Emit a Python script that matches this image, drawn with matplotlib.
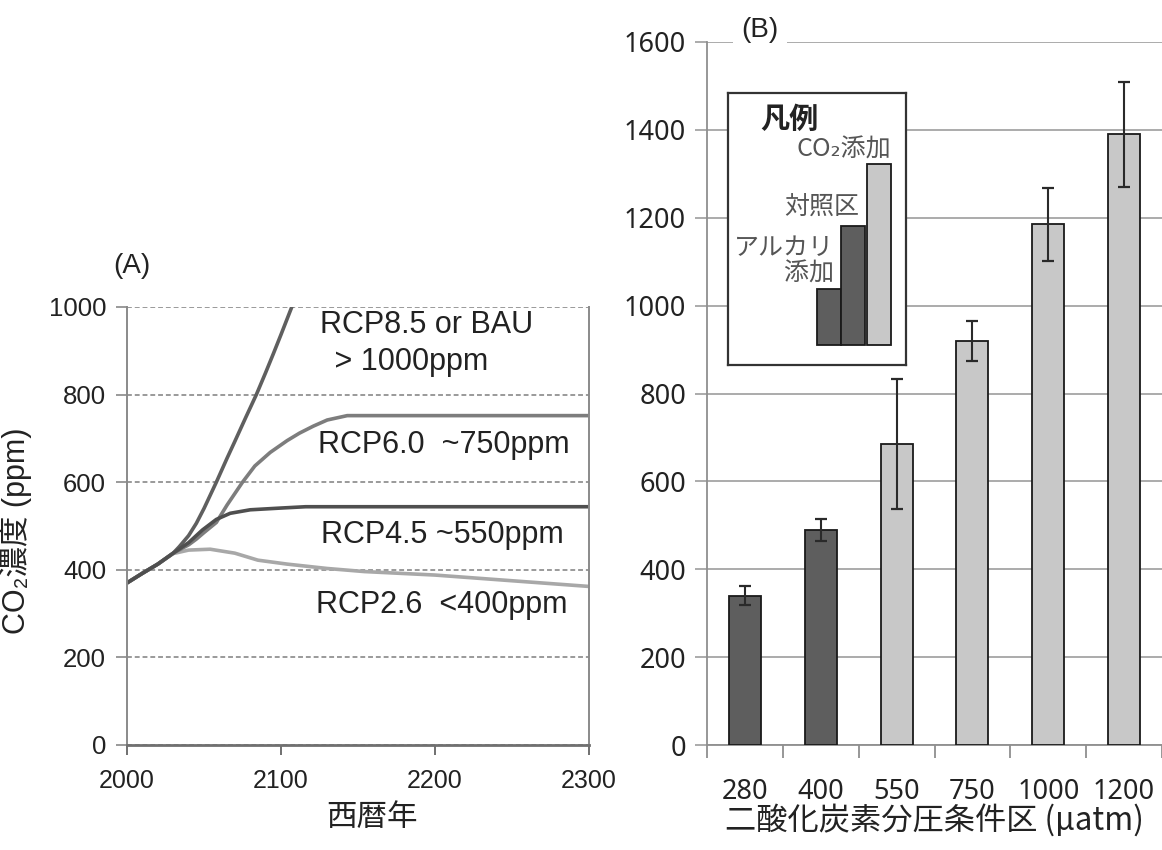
import matplotlib
matplotlib.use("Agg")
import matplotlib.pyplot as plt
from matplotlib.ticker import FixedLocator

# --- (A) RCP scenario CO2 concentrations ---
years_85 = [2000, 2010, 2020, 2030, 2034, 2040, 2045, 2050, 2058, 2065, 2070, 2077, 2084, 2090, 2095, 2100, 2107]
rcp85 = [370, 392, 413, 438, 453, 478, 506, 540, 600, 655, 693, 747, 800, 850, 893, 937, 1000]

years_60 = [2000, 2010, 2020, 2030, 2040, 2045, 2050, 2058, 2065, 2075, 2083, 2093, 2104, 2112, 2121, 2130, 2143, 2200, 2300]
rcp60 = [370, 392, 413, 438, 457, 470, 485, 508, 548, 600, 637, 668, 695, 712, 728, 742, 752, 752, 752]

years_45 = [2000, 2010, 2020, 2030, 2040, 2049, 2058, 2067, 2080, 2100, 2116, 2200, 2300]
rcp45 = [370, 392, 413, 438, 462, 491, 515, 529, 537, 541, 544, 544, 544]

years_26 = [2000, 2010, 2020, 2030, 2040, 2054, 2070, 2085, 2104, 2130, 2154, 2200, 2250, 2300]
rcp26 = [370, 392, 413, 437, 445, 447, 438, 422, 413, 403, 396, 388, 375, 362]

# --- (B) bar chart by CO2 partial pressure ---
conditions = ["280", "400", "550", "750", "1000", "1200"]
bar_values = [340, 490, 685, 920, 1185, 1390]
bar_errors = [21, 25, 148, 45, 83, 120]
bar_groups = ["alk", "alk", "co2", "co2", "co2", "co2"]

legend_heights = [56, 119, 181]
legend_groups = ["alk", "ctrl", "co2"]

group_colors = {"alk": "#5e5e5e", "ctrl": "#5e5e5e", "co2": "#c8c8c8"}

W, H = 1162, 850
latin = ["Liberation Sans", "Noto Sans CJK JP", "DejaVu Sans"]
cjk = ["Noto Sans CJK JP", "DejaVu Sans"]
plt.rcParams["font.family"] = latin

fig = plt.figure(figsize=(W / 100, H / 100), dpi=100)

# panel A
ax_a = fig.add_axes([127 / W, 105 / H, 462 / W, 438 / H])
ax_a.plot(years_26, rcp26, color="#a8a8a8", lw=2.6)
ax_a.plot(years_85, rcp85, color="#5f5f5f", lw=2.6)
ax_a.plot(years_60, rcp60, color="#7d7d7d", lw=2.6)
ax_a.plot(years_45, rcp45, color="#4f4f4f", lw=2.6)
ax_a.set_xlim(2000, 2300)
ax_a.set_ylim(0, 1000)
ax_a.set_xticks([2000, 2100, 2200, 2300])
ax_a.set_yticks(range(0, 1001, 200))
ax_a.yaxis.grid(True, color="#9a9a9a", lw=1.4, linestyle=(0, (2.5, 1.5)))
ax_a.set_axisbelow(True)
for side in ["left", "right"]:
    ax_a.spines[side].set_color("#8a8a8a")
    ax_a.spines[side].set_linewidth(1.4)
ax_a.spines["top"].set_visible(False)
ax_a.spines["bottom"].set_color("#707070")
ax_a.spines["bottom"].set_linewidth(2)
ax_a.tick_params(axis="x", direction="out", length=7, width=1.4, color="#707070",
                 labelsize=18, pad=10, labelcolor="#222222")
ax_a.tick_params(axis="y", direction="out", length=8, width=1.4, color="#9a9a9a",
                 labelsize=18.5, pad=7, labelcolor="#222222")
ax_a.set_xlabel("西暦年", family=cjk, fontsize=22, color="#222222")
ax_a.xaxis.set_label_coords(0.53, -0.13)
ax_a.set_ylabel("CO₂濃度 (ppm)", family=latin, fontsize=22, color="#222222")
ax_a.yaxis.set_label_coords(-0.205, 0.49)

ann = dict(fontsize=22, color="#222222", va="center", ha="left")
ax_a.text(2125, 959, "RCP8.5 or BAU", **ann)
ax_a.text(2129, 874, " > 1000ppm", **ann)
ax_a.text(2124, 685, "RCP6.0  ~750ppm", **ann)
ax_a.text(2126, 479, "RCP4.5 ~550ppm", **ann)
ax_a.text(2123, 320, "RCP2.6  <400ppm", **ann)
fig.text(132 / W, 1 - 266 / H, "(A)", fontsize=20, ha="center", va="center", color="#222222")

# panel B
ax_b = fig.add_axes([707 / W, 105 / H, 455 / W, 703 / H])
xpos = list(range(len(conditions)))
ax_b.bar(xpos, bar_values, width=0.42, color=[group_colors[g] for g in bar_groups],
         edgecolor="#1a1a1a", linewidth=1.3, zorder=3)
ax_b.errorbar(xpos, bar_values, yerr=bar_errors, fmt="none", ecolor="#2a2a2a",
              elinewidth=1.5, capsize=4.3, capthick=1.6, zorder=4)
ax_b.set_xlim(-0.5, len(conditions) - 0.5)
ax_b.set_ylim(0, 1600)
ax_b.set_yticks(range(0, 1601, 200))
ax_b.set_xticks(xpos)
ax_b.set_xticklabels(conditions)
ax_b.xaxis.set_minor_locator(FixedLocator([i - 0.5 for i in range(len(conditions) + 1)]))
ax_b.yaxis.grid(True, color="#a5a5a5", lw=1.3)
ax_b.set_axisbelow(True)
ax_b.spines["top"].set_visible(False)
ax_b.spines["right"].set_visible(False)
ax_b.spines["left"].set_color("#8f8f8f")
ax_b.spines["bottom"].set_color("#8f8f8f")
ax_b.spines["left"].set_linewidth(1.3)
ax_b.spines["bottom"].set_linewidth(1.3)
ax_b.tick_params(axis="x", which="major", length=0, pad=24, labelsize=19.5, labelcolor="#222222")
ax_b.tick_params(axis="x", which="minor", length=9, width=1.3, color="#8f8f8f", direction="out")
ax_b.tick_params(axis="y", length=9, width=1.3, color="#a5a5a5", pad=6, labelsize=19.5,
                 labelcolor="#222222")
for lab in ax_b.get_xticklabels() + ax_b.get_yticklabels():
    lab.set_family(["Noto Sans", "DejaVu Sans"])
ax_b.set_xlabel("二酸化炭素分圧条件区 (µatm)", family=cjk, fontsize=22.5, labelpad=-2,
                color="#222222")
fig.text(760 / W, 1 - 30 / H, "(B)", fontsize=20, ha="center", va="center", color="#222222",
         bbox=dict(facecolor="white", edgecolor="none", pad=6))

# legend box drawn as a small bar chart
ax_l = fig.add_axes([728 / W, 1 - 365 / H, 178 / W, 272 / H])
ax_l.set_xlim(0, 178)
ax_l.set_ylim(0, 272)
ax_l.bar([101.3, 125.3, 150.5], legend_heights, bottom=20, width=24,
         color=[group_colors[g] for g in legend_groups], edgecolor="#1a1a1a", linewidth=1.3)
ax_l.set_xticks([])
ax_l.set_yticks([])
for s in ax_l.spines.values():
    s.set_color("#333333")
    s.set_linewidth(1.6)
ax_l.text(61, 246, "凡例", family=cjk, fontsize=21, fontweight="bold", ha="center",
          va="center", color="#222222")
ax_l.text(163, 215, "CO₂添加", family=cjk, fontsize=18, ha="right", va="center", color="#555555")
ax_l.text(131, 158, "対照区", family=cjk, fontsize=18, ha="right", va="center", color="#555555")
ax_l.text(106, 104, "アルカリ\n　添加", family=cjk, fontsize=18, ha="right", va="center",
          color="#555555", linespacing=1.0)

fig.savefig("out.png", dpi=100)
